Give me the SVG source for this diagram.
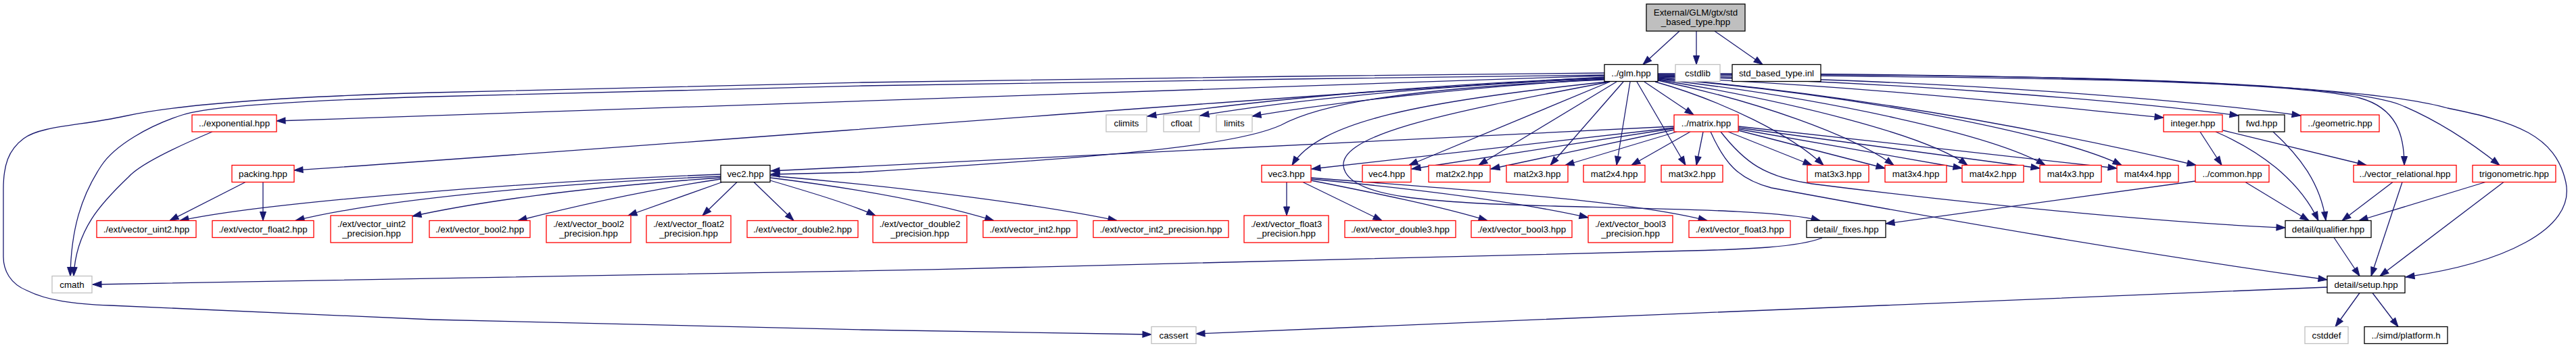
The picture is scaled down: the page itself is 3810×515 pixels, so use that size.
<svg xmlns="http://www.w3.org/2000/svg" width="3810" height="515" viewBox="0 0 3810 515">
<style>
rect{fill:#fff;stroke-width:1.3}
.r rect{stroke:#ff0000}
.g rect{stroke:#bfbfbf}
.b rect{stroke:#000}
.root rect{fill:#bfbfbf;stroke:#000}
text{font-family:"Liberation Sans",Arial,Helvetica,sans-serif;font-size:13.33px;text-anchor:middle;fill:#000}
#edges path{fill:none;stroke:#191970;stroke-width:1.3;marker-end:url(#a)}
</style>
<defs>
<marker id="a" markerUnits="userSpaceOnUse" markerWidth="14" markerHeight="10" refX="13" refY="5" orient="auto" overflow="visible">
<path d="M0,0.5 L13,5 L0,9.5 z" fill="#191970" stroke="#191970" stroke-width="1"/>
</marker>
</defs>
<rect x="0" y="0" width="3810" height="515" style="fill:#fff;stroke:none"/>
<g id="edges">
<path d="M2484,46 L2430,95.5"/>
<path d="M2509,46 L2509,95.5"/>
<path d="M2536,46 L2607,95.5"/>
<path d="M2373,108 L1910,113 L1275,122 L640,137 C420,143 260,155 184,172 C120,186 60,186 35,205 C12,222 5,245 5,280 L5,380 C5,400 15,420 40,430 C70,445 110,450 163,452 L640,473 L1275,488 L1703,495"/>
<path d="M2373,111 L1910,117 L1275,127 L640,143 C400,150 300,160 270,170 C220,186 170,215 150,245 C120,290 105,340 104,408.5"/>
<path d="M2373,112 L409,179"/>
<path d="M2373,114 C1900,141 1000,214 435,252"/>
<path d="M2373,115 C2100,125 1850,150 1697,172"/>
<path d="M2373,116 C2100,128 1900,150 1775,171"/>
<path d="M2373,117 C2150,130 1950,155 1852,172"/>
<path d="M2373,118 C2100,130 1960,150 1895,185 C1830,215 1650,232 1270,255 L1140,258"/>
<path d="M2377,121 C2100,150 1950,180 1911,244.5"/>
<path d="M2381,121 C2150,165 1960,200 1990,255 C2010,290 2100,300 2300,305 C2500,310 2640,312 2692,326.5"/>
<path d="M2381,121 L2084,244.5"/>
<path d="M2391,121 L2187,244.5"/>
<path d="M2401,121 L2293,244.5"/>
<path d="M2411,121 L2391,244.5"/>
<path d="M2421,121 L2493,244.5"/>
<path d="M2432,121 L2505,170"/>
<path d="M2448,121 C2550,150 2650,200 2697,244.5"/>
<path d="M2452,119 C2600,150 2740,200 2801,244.5"/>
<path d="M2452,118 C2650,150 2850,200 2910,244.5"/>
<path d="M2452,117 C2700,145 2950,200 3025,244.5"/>
<path d="M2452,116 C2750,140 3050,200 3138,244.5"/>
<path d="M2452,115 C2800,145 3100,210 3248,244.5"/>
<path d="M2452,114 C2800,130 3050,160 3200,174"/>
<path d="M2452,113 C2800,120 3150,150 3311,171"/>
<path d="M2452,112 C2900,118 3250,150 3403,171"/>
<path d="M2452,111 C2950,113 3380,118 3490,145 C3545,160 3556,200 3556,244.5"/>
<path d="M2452,110 C3000,110 3450,118 3550,155 C3610,180 3660,215 3697,244.5"/>
<path d="M2452,109 C3050,108 3500,125 3620,160 C3720,180 3780,200 3795,270 C3810,340 3700,390 3558,410"/>
<path d="M2476,187 L1140,253"/>
<path d="M2476,189 L1940,250"/>
<path d="M2476,190 L2088,250"/>
<path d="M2476,192 L2205,250"/>
<path d="M2480,195 L2315,244.5"/>
<path d="M2500,195 L2413,244.5"/>
<path d="M2519,195 L2509,244.5"/>
<path d="M2556,195 L2680,244.5"/>
<path d="M2571,193 L2788,249"/>
<path d="M2571,191 L2902,249"/>
<path d="M2571,189 L3017,249"/>
<path d="M2571,187 L3131,249"/>
<path d="M2545,195 C2580,240 2610,262 2680,272 C2900,300 3200,330 3380,337"/>
<path d="M2530,195 C2550,240 2570,265 2620,278 C2900,330 3200,380 3442,414"/>
<path d="M1066,258 C800,268 400,298 266,326.5"/>
<path d="M1066,261 C800,272 550,298 437,326.5"/>
<path d="M1066,263 C850,278 700,300 610,320"/>
<path d="M1066,265 C950,282 850,305 766,326.5"/>
<path d="M1068,269.5 L929,319"/>
<path d="M1090,269.5 L1039,319"/>
<path d="M1115,269.5 L1174,326.5"/>
<path d="M1139,267 C1200,285 1260,303 1295,319"/>
<path d="M1139,263 C1300,283 1400,305 1470,326.5"/>
<path d="M1139,260 C1350,278 1550,305 1652,326.5"/>
<path d="M1903,269.5 L1903,319"/>
<path d="M1927,269.5 L2044,326.5"/>
<path d="M1939,267 C2030,285 2130,305 2200,326.5"/>
<path d="M1939,265 C2100,280 2250,300 2349,322"/>
<path d="M1939,263 C2150,280 2400,295 2525,326.5"/>
<path d="M363,269.5 L251,326.5"/>
<path d="M389,269.5 L389,326.5"/>
<path d="M314,195 C250,222 205,245 190,262 C150,300 112,340 109,408.5"/>
<path d="M2695,352 C2660,366 2580,369 2500,371 C1800,392 800,412 137,421"/>
<path d="M3247,268 L2789,331"/>
<path d="M3321,269.5 L3415,326.5"/>
<path d="M3254,195 L3286,244.5"/>
<path d="M3277,195 C3340,222 3400,265 3429,326.5"/>
<path d="M3288,193 L3500,244.5"/>
<path d="M3362,195 C3400,230 3432,270 3440,326.5"/>
<path d="M3539,269.5 L3464,326.5"/>
<path d="M3553,269.5 L3507,408.5"/>
<path d="M3676,269.5 L3489,326.5"/>
<path d="M3703,269.5 L3520,408.5"/>
<path d="M3452,351.5 L3490,408.5"/>
<path d="M3490,433.5 L3454,483.5"/>
<path d="M3509,433.5 L3547,483.5"/>
<path d="M3442,425 C3000,438 2300,475 1769,494"/>
</g>
<g id="n_root" class="root"><rect x="2435" y="6" width="146" height="40"/><text x="2508" y="22.5">External/GLM/gtx/std</text><text x="2508" y="37">_based_type.hpp</text></g>
<g id="n_glm" class="b"><rect x="2373" y="95.5" width="79" height="25"/><text x="2412.5" y="112.5">../glm.hpp</text></g>
<g id="n_cstdlib" class="g"><rect x="2478" y="95.5" width="66" height="25"/><text x="2511" y="112.5">cstdlib</text></g>
<g id="n_inl" class="b"><rect x="2562" y="95.5" width="131" height="25"/><text x="2627.5" y="112.5">std_based_type.inl</text></g>
<g id="n_exponential" class="r"><rect x="284" y="170" width="125" height="25"/><text x="346.5" y="187">../exponential.hpp</text></g>
<g id="n_climits" class="g"><rect x="1636" y="170" width="60" height="25"/><text x="1666" y="187">climits</text></g>
<g id="n_cfloat" class="g"><rect x="1721" y="170" width="53" height="25"/><text x="1747.5" y="187">cfloat</text></g>
<g id="n_limits" class="g"><rect x="1799" y="170" width="53" height="25"/><text x="1825.5" y="187">limits</text></g>
<g id="n_matrix" class="r"><rect x="2476" y="170" width="95" height="25"/><text x="2523.5" y="187">../matrix.hpp</text></g>
<g id="n_integer" class="r"><rect x="3200" y="170" width="87" height="25"/><text x="3243.5" y="187">integer.hpp</text></g>
<g id="n_fwd" class="b"><rect x="3311" y="170" width="68" height="25"/><text x="3345" y="187">fwd.hpp</text></g>
<g id="n_geometric" class="r"><rect x="3403" y="170" width="116" height="25"/><text x="3461" y="187">../geometric.hpp</text></g>
<g id="n_packing" class="r"><rect x="343" y="244.5" width="92" height="25"/><text x="389" y="261.5">packing.hpp</text></g>
<g id="n_vec2" class="b"><rect x="1066" y="244.5" width="73" height="25"/><text x="1102.5" y="261.5">vec2.hpp</text></g>
<g id="n_vec3" class="r"><rect x="1866" y="244.5" width="73" height="25"/><text x="1902.5" y="261.5">vec3.hpp</text></g>
<g id="n_vec4" class="r"><rect x="2015" y="244.5" width="72" height="25"/><text x="2051" y="261.5">vec4.hpp</text></g>
<g id="n_mat2x2" class="r"><rect x="2113" y="244.5" width="91" height="25"/><text x="2158.5" y="261.5">mat2x2.hpp</text></g>
<g id="n_mat2x3" class="r"><rect x="2228" y="244.5" width="91" height="25"/><text x="2273.5" y="261.5">mat2x3.hpp</text></g>
<g id="n_mat2x4" class="r"><rect x="2342" y="244.5" width="91" height="25"/><text x="2387.5" y="261.5">mat2x4.hpp</text></g>
<g id="n_mat3x2" class="r"><rect x="2457" y="244.5" width="91" height="25"/><text x="2502.5" y="261.5">mat3x2.hpp</text></g>
<g id="n_mat3x3" class="r"><rect x="2673" y="244.5" width="91" height="25"/><text x="2718.5" y="261.5">mat3x3.hpp</text></g>
<g id="n_mat3x4" class="r"><rect x="2788" y="244.5" width="91" height="25"/><text x="2833.5" y="261.5">mat3x4.hpp</text></g>
<g id="n_mat4x2" class="r"><rect x="2902" y="244.5" width="91" height="25"/><text x="2947.5" y="261.5">mat4x2.hpp</text></g>
<g id="n_mat4x3" class="r"><rect x="3017" y="244.5" width="91" height="25"/><text x="3062.5" y="261.5">mat4x3.hpp</text></g>
<g id="n_mat4x4" class="r"><rect x="3131" y="244.5" width="91" height="25"/><text x="3176.5" y="261.5">mat4x4.hpp</text></g>
<g id="n_common" class="r"><rect x="3247" y="244.5" width="109" height="25"/><text x="3301.5" y="261.5">../common.hpp</text></g>
<g id="n_vrel" class="r"><rect x="3481" y="244.5" width="152" height="25"/><text x="3557" y="261.5">../vector_relational.hpp</text></g>
<g id="n_trig" class="r"><rect x="3657" y="244.5" width="123" height="25"/><text x="3718.5" y="261.5">trigonometric.hpp</text></g>
<g id="n_vuint2" class="r"><rect x="143" y="326.5" width="147" height="25"/><text x="216.5" y="343.5">./ext/vector_uint2.hpp</text></g>
<g id="n_vfloat2" class="r"><rect x="314" y="326.5" width="150" height="25"/><text x="389" y="343.5">./ext/vector_float2.hpp</text></g>
<g id="n_vuint2p" class="r"><rect x="489" y="319" width="121" height="40"/><text x="549.5" y="335.5">./ext/vector_uint2</text><text x="549.5" y="350">_precision.hpp</text></g>
<g id="n_vbool2" class="r"><rect x="635" y="326.5" width="149" height="25"/><text x="709.5" y="343.5">./ext/vector_bool2.hpp</text></g>
<g id="n_vbool2p" class="r"><rect x="808" y="319" width="125" height="40"/><text x="870.5" y="335.5">./ext/vector_bool2</text><text x="870.5" y="350">_precision.hpp</text></g>
<g id="n_vfloat2p" class="r"><rect x="956" y="319" width="125" height="40"/><text x="1018.5" y="335.5">./ext/vector_float2</text><text x="1018.5" y="350">_precision.hpp</text></g>
<g id="n_vdouble2" class="r"><rect x="1105" y="326.5" width="164" height="25"/><text x="1187" y="343.5">./ext/vector_double2.hpp</text></g>
<g id="n_vdouble2p" class="r"><rect x="1291" y="319" width="139" height="40"/><text x="1360.5" y="335.5">./ext/vector_double2</text><text x="1360.5" y="350">_precision.hpp</text></g>
<g id="n_vint2" class="r"><rect x="1454" y="326.5" width="139" height="25"/><text x="1523.5" y="343.5">./ext/vector_int2.hpp</text></g>
<g id="n_vint2p" class="r"><rect x="1617" y="326.5" width="200" height="25"/><text x="1717" y="343.5">./ext/vector_int2_precision.hpp</text></g>
<g id="n_vfloat3p" class="r"><rect x="1840" y="319" width="125" height="40"/><text x="1902.5" y="335.5">./ext/vector_float3</text><text x="1902.5" y="350">_precision.hpp</text></g>
<g id="n_vdouble3" class="r"><rect x="1989" y="326.5" width="164" height="25"/><text x="2071" y="343.5">./ext/vector_double3.hpp</text></g>
<g id="n_vbool3" class="r"><rect x="2176" y="326.5" width="149" height="25"/><text x="2250.5" y="343.5">./ext/vector_bool3.hpp</text></g>
<g id="n_vbool3p" class="r"><rect x="2349" y="319" width="125" height="40"/><text x="2411.5" y="335.5">./ext/vector_bool3</text><text x="2411.5" y="350">_precision.hpp</text></g>
<g id="n_vfloat3" class="r"><rect x="2498" y="326.5" width="150" height="25"/><text x="2573" y="343.5">./ext/vector_float3.hpp</text></g>
<g id="n_fixes" class="b"><rect x="2672" y="326.5" width="117" height="25"/><text x="2730.5" y="343.5">detail/_fixes.hpp</text></g>
<g id="n_qualifier" class="b"><rect x="3380" y="326.5" width="127" height="25"/><text x="3443.5" y="343.5">detail/qualifier.hpp</text></g>
<g id="n_cmath" class="g"><rect x="77" y="408.5" width="59" height="25"/><text x="106.5" y="425.5">cmath</text></g>
<g id="n_setup" class="b"><rect x="3442" y="408.5" width="115" height="25"/><text x="3499.5" y="425.5">detail/setup.hpp</text></g>
<g id="n_cassert" class="g"><rect x="1703" y="483.5" width="66" height="25"/><text x="1736" y="500.5">cassert</text></g>
<g id="n_cstddef" class="g"><rect x="3409" y="483.5" width="64" height="25"/><text x="3441" y="500.5">cstddef</text></g>
<g id="n_platform" class="b"><rect x="3497" y="483.5" width="123" height="25"/><text x="3558.5" y="500.5">../simd/platform.h</text></g>
</svg>
